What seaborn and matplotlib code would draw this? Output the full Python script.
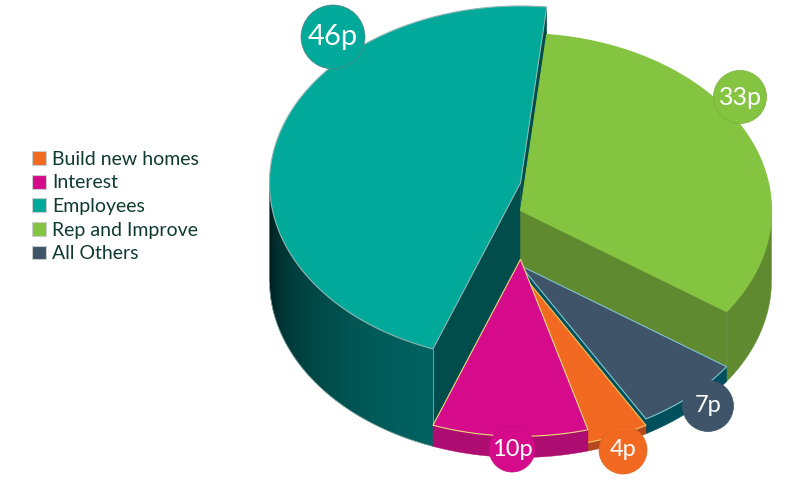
import numpy as np
import pandas as pd
import matplotlib.pyplot as plt
from matplotlib.colors import LinearSegmentedColormap
from matplotlib.patches import Patch, Polygon
import seaborn as sns

sns.set_theme(style="white")
plt.rcParams['font.family'] = ['Lato', 'DejaVu Sans']

nomes = ["Build new homes", "Interest", "Employees", "Rep and Improve", "All Others"]
valores = [4, 10, 46, 33, 7]
rotulos = ["4p", "10p", "46p", "33p", "7p"]

coresTopo = ["#f26a21", "#d60b8c", "#00a99a", "#84c441", "#3f5468"]
coresParede = ["#b5481f", "#ad0d70", "#004d4b", "#5f8a30", "#004f5c"]
coresBorda = ["#f0c860", "#e8dc78", "#8fb5b0", "#84c441", "#7cc4cf"]
coresBordaBadge = ["#e0631f", "#c40a80", "#5f7f80", "#76b03a", "#3f5468"]

# where the badges sit, pixels
badgeX = [623, 512, 333, 740, 708]
badgeY = [450, 449, 37, 97, 406]
badgeD = [48, 46, 64, 53, 51]
fonteBadge = [17, 17, 21, 18, 17]

RX, RY = 251, 177
CX, BASE_Y = 520.5, 280.5
ALTURA_POR_VALOR = 2.12
ANGULO_INICIAL = 150

fig = plt.figure(figsize=(8.07, 4.79), dpi=100)
ax = fig.add_axes([0, 0, 1, 1])


def aro(angulos, cy):
    # angle clockwise from the top of the ellipse, y axis runs downwards
    rad = np.radians(angulos)
    return np.column_stack([CX + RX * np.sin(rad), cy - RY * np.cos(rad)])


def poligono(pontos, cor, borda=None, z=1):
    p = Polygon(pontos, closed=True, facecolor=cor, edgecolor=borda or cor,
                linewidth=0.8 if borda else 0.3, zorder=z)
    ax.add_patch(p)
    return p


bordas = ANGULO_INICIAL + np.concatenate([[0], np.cumsum(valores)]) * 3.6
ordemDesenho = [2, 3, 4, 0, 1]
gradiente = LinearSegmentedColormap.from_list(
    "parede", ["#001f1f", "#003a39", "#004b49", "#005a58", "#006361"])

for z, i in enumerate(ordemDesenho):
    t0, t1 = bordas[i], bordas[i + 1]
    altura = valores[i] * ALTURA_POR_VALOR
    cy = BASE_Y - altura
    zz = 2 + z * 4

    # radial walls that face the viewer
    for t, visivel in ((t0, np.sin(np.radians(t0)) < 0), (t1, np.sin(np.radians(t1)) > 0)):
        if visivel:
            topo = aro([t], cy)[0]
            baixo = aro([t], BASE_Y)[0]
            poligono([(CX, cy), topo, baixo, (CX, BASE_Y)], coresParede[i], z=zz)

    # outer wall, only the front half of the rim shows
    angulos = np.linspace(t0, t1, 200)
    frente = angulos[np.cos(np.radians(angulos)) <= 0]
    if len(frente):
        pontos = np.vstack([aro(frente, cy), aro(frente[::-1], BASE_Y)])
        parede = poligono(pontos, coresParede[i], z=zz + 1)
        if nomes[i] == "Employees":
            xmin, xmax = pontos[:, 0].min(), pontos[:, 0].max()
            img = ax.imshow(np.linspace(0, 1, 256)[:, None].T ** 0.6, cmap=gradiente,
                            extent=(xmin, xmax, pontos[:, 1].max(), pontos[:, 1].min()),
                            aspect='auto', zorder=zz + 1.5)
            img.set_clip_path(parede)
            ax.plot(*aro(frente, BASE_Y).T, color="#9fb8b5", linewidth=0.5, zorder=zz + 1.6)
            ax.plot([pontos[0, 0], pontos[-1, 0]], [pontos[0, 1], pontos[-1, 1]],
                    color="#7f9c9a", linewidth=0.7, zorder=zz + 1.6)

    # top face
    arco = aro(np.linspace(t0, t1, 200), cy)
    poligono(np.vstack([[CX, cy], arco]), coresTopo[i], borda=coresBorda[i], z=zz + 2)

dfBadge = pd.DataFrame({"nome": nomes, "x": badgeX, "y": badgeY,
                        "area": [(d * 0.72) ** 2 for d in badgeD]})
sns.scatterplot(data=dfBadge, x="x", y="y", hue="nome", size="nome",
                palette=dict(zip(nomes, coresTopo)),
                sizes=dict(zip(nomes, dfBadge["area"])),
                linewidth=0.5, legend=False, zorder=40, ax=ax)
ax.collections[-1].set_edgecolors(coresBordaBadge)

for x, y, rot, fs in zip(badgeX, badgeY, rotulos, fonteBadge):
    ax.text(x, y, rot, color="white", fontsize=fs, ha="center", va="center", zorder=41)

ax.set_xlim(0, 807)
ax.set_ylim(479, 0)
ax.set_axis_off()

handles = [Patch(facecolor=c, edgecolor="#c9cdcd", linewidth=0.8) for c in coresTopo]
ax.legend(handles, nomes, loc="upper left", bbox_to_anchor=(26 / 807, 1 - 145 / 479),
          frameon=False, fontsize=14, labelcolor="#0e3a30", handlelength=0.72, handleheight=0.72,
          handletextpad=0.31, labelspacing=0.34, borderpad=0.3, borderaxespad=0)

plt.savefig("out.png", dpi=100)
print("grafico gerado")
